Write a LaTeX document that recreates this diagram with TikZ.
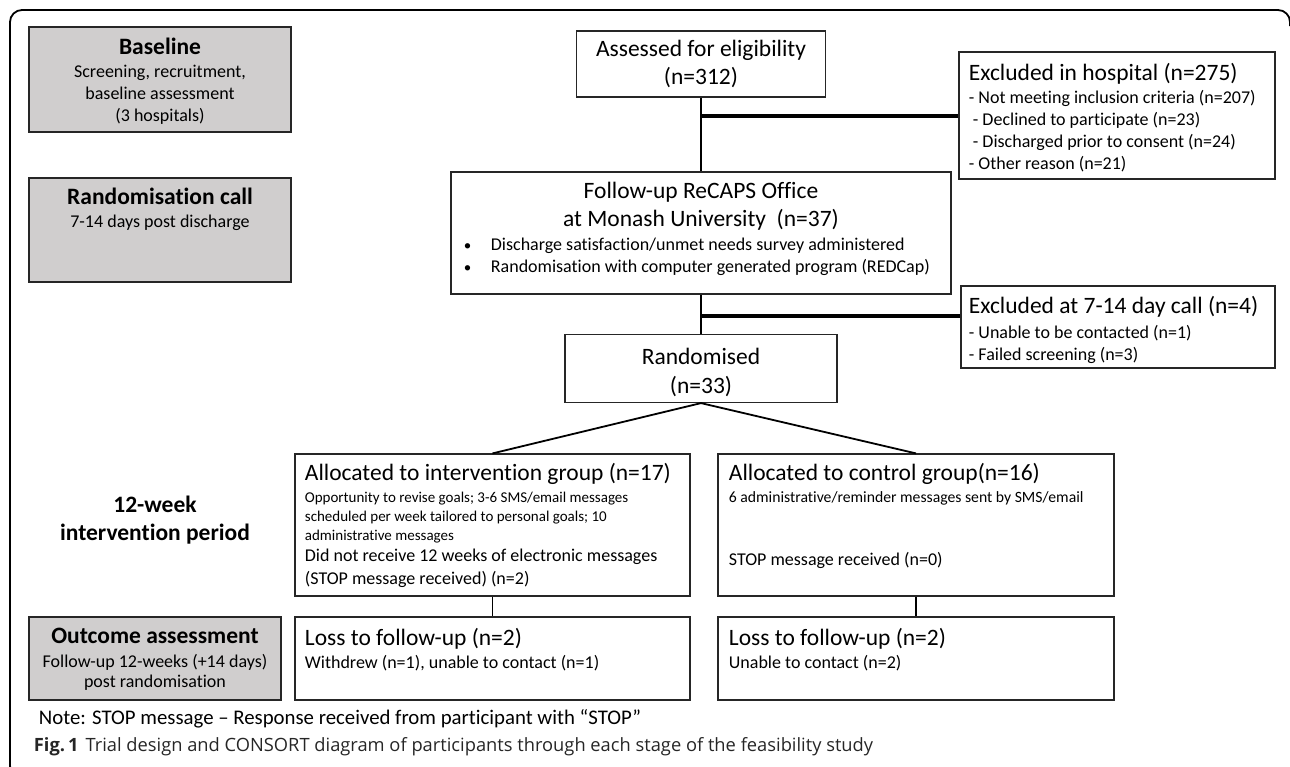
\documentclass[tikz,border=0pt]{standalone}
\usepackage{fontspec}
\setmainfont{Carlito}[Ligatures=NoCommon]
\newfontfamily\capfont{Open Sans}
\usetikzlibrary{calc}
\tikzset{every picture/.style={line width=1.8pt}}
\definecolor{boxgrey}{RGB}{208,206,206}
\newcommand{\bigtxt}{\fontsize{23.5}{28}\selectfont}
\newcommand{\midtxt}{\fontsize{18}{22}\selectfont}
\newcommand{\smltxt}{\fontsize{15}{19}\selectfont}

\begin{document}
\begin{tikzpicture}[x=1pt,y=-1pt,
        box/.style={draw=black!85, fill=white, line width=1.2pt, inner sep=0pt},
        greybox/.style={box, fill=boxgrey},
        txt/.style={inner sep=0pt, align=left},
        ctxt/.style={inner sep=0pt, align=center},
        bar/.style={line width=3.8pt}]
        \useasboundingbox (0,0) rectangle (1290,766);
        \draw[rounded corners=12pt] (1290,26) -- (1290,10) -- (10,10) -- (10,778) -- (40,778);

        % stage boxes on the left
        \node[greybox, minimum width=262pt, minimum height=105pt] (base) at (160,79.5) {};
        \node[greybox, minimum width=262pt, minimum height=104pt] (randcall) at (160,230) {};
        \node[greybox, minimum width=252pt, minimum height=83pt] (outcome) at (155,658.5) {};

        \node[ctxt, anchor=north, font=\midtxt] (basetxt) at (160,37)
            {{\bfseries\bigtxt Baseline}\\[1.4pt]Screening, recruitment,\\baseline assessment\\(3 hospitals)};
        \node[ctxt, anchor=north, font=\midtxt] (randcalltxt) at (160,187)
            {{\bfseries\bigtxt Randomisation call}\\[1.4pt]7-14 days post discharge};
        \node[ctxt, anchor=north, font=\fontsize{18}{20}\selectfont] (outcometxt) at (155,627)
            {{\bfseries\bigtxt Outcome assessment}\\[4.4pt]Follow-up 12-weeks (+14 days)\\post randomisation};
        \node[ctxt, anchor=north, font=\bfseries\bigtxt] (weeks) at (155,495)
            {12-week\\intervention period};

        % flow boxes
        \node[box, minimum width=249pt, minimum height=66pt, align=center, font=\bigtxt] (assessed) at (701,64)
            {Assessed for eligibility\\(n=312)};
        \node[box, minimum width=316pt, minimum height=127pt] (exclhosp) at (1117,115.5) {};
        \node[box, minimum width=500pt, minimum height=122pt] (followup) at (701,233) {};
        \node[box, minimum width=314pt, minimum height=82pt] (exclcall) at (1118,327) {};
        \node[box, minimum width=272pt, minimum height=68pt, align=center, font=\bigtxt] (randomised) at (701,368.5)
            {\rule{0pt}{24pt}Randomised\\[1pt](n=33)};
        \node[box, minimum width=395pt, minimum height=142pt] (interv) at (492.5,525) {};
        \node[box, minimum width=396pt, minimum height=142pt] (control) at (916,525) {};
        \node[box, minimum width=395pt, minimum height=83pt] (lossi) at (492.5,658.5) {};
        \node[box, minimum width=396pt, minimum height=83pt] (lossc) at (916,658.5) {};

        \node[txt, anchor=north west, font=\midtxt] (exclhosptxt) at (968,62)
            {{\bigtxt Excluded in hospital (n=275)}\\[1.4pt]- Not meeting inclusion criteria (n=207)\\
             \hspace*{4pt}- Declined to participate (n=23)\\\hspace*{4pt}- Discharged prior to consent (n=24)\\
             - Other reason (n=21)};
        \node[ctxt, anchor=north, font=\bigtxt] (followuptxt) at (701,181)
            {Follow-up ReCAPS Office\\at Monash University\ \ (n=37)};
        \node[txt, anchor=north west, font=\midtxt] (followupbul) at (463,237.4)
            {\makebox[27pt][l]{\smltxt\textbullet}Discharge satisfaction/unmet needs survey administered\\
             \makebox[27pt][l]{\smltxt\textbullet}Randomisation with computer generated program (REDCap)};
        \node[txt, anchor=north west, font=\midtxt] (exclcalltxt) at (968,295)
            {{\bigtxt Excluded at 7-14 day call (n=4)}\\[3.4pt]- Unable to be contacted (n=1)\\- Failed screening (n=3)};

        \node[txt, anchor=north west, font=\bigtxt] (intervtitle) at (304,462) {Allocated to intervention group (n=17)};
        \node[txt, anchor=north west, font=\smltxt] (intervsml) at (304,490.7)
            {Opportunity to revise goals; 3-6 SMS/email messages\\scheduled per week tailored to personal goals; 10\\administrative messages};
        \node[txt, anchor=north west, font=\fontsize{18}{23}\selectfont] (intervstop) at (304,548.4)
            {Did not receive 12 weeks of electronic messages\\(STOP message received) (n=2)};
        \node[txt, anchor=north west, font=\bigtxt] (controltitle) at (728,462) {Allocated to control group(n=16)};
        \node[txt, anchor=north west, font=\fontsize{15.7}{19}\selectfont] (controlsml) at (728,490.4)
            {6 administrative/reminder messages sent by SMS/email};
        \node[txt, anchor=north west, font=\midtxt] (controlstop) at (728,551.4) {STOP message received (n=0)};

        \node[txt, anchor=north west, font=\bigtxt] (lossititle) at (304,627) {Loss to follow-up (n=2)};
        \node[txt, anchor=north west, font=\midtxt] (lossitxt) at (304,654.4) {Withdrew (n=1), unable to contact (n=1)};
        \node[txt, anchor=north west, font=\bigtxt] (lossctitle) at (728,627) {Loss to follow-up (n=2)};
        \node[txt, anchor=north west, font=\midtxt] (lossctxt) at (728,654.4) {Unable to contact (n=2)};

        \node[txt, anchor=north west, font=\fontsize{20.8}{25}\selectfont] (note) at (38,709)
            {Note: STOP message – Response received from participant with “STOP”};
        \node[txt, anchor=north west, font=\capfont\fontsize{18.3}{22}\selectfont, text=black!85] (caption) at (33,737)
            {{\bfseries Fig.\,1}\hspace{7pt}Trial design and CONSORT diagram of participants through each stage of the feasibility study};

        \coordinate (j1) at (701,116);
        \coordinate (j2) at (701,316);
        \draw
            (assessed) edge (followup)
            (followup) edge (randomised)
            (randomised.south) edge (interv.north)
            (randomised.south) edge (control.north)
            (interv) edge (lossi)
            (control) edge (lossc)
            ;
        \draw[bar] (j1) -- (j1 -| exclhosp.west);
        \draw[bar] (j2) -- (j2 -| exclcall.west);
    \end{tikzpicture}
\end{document}
